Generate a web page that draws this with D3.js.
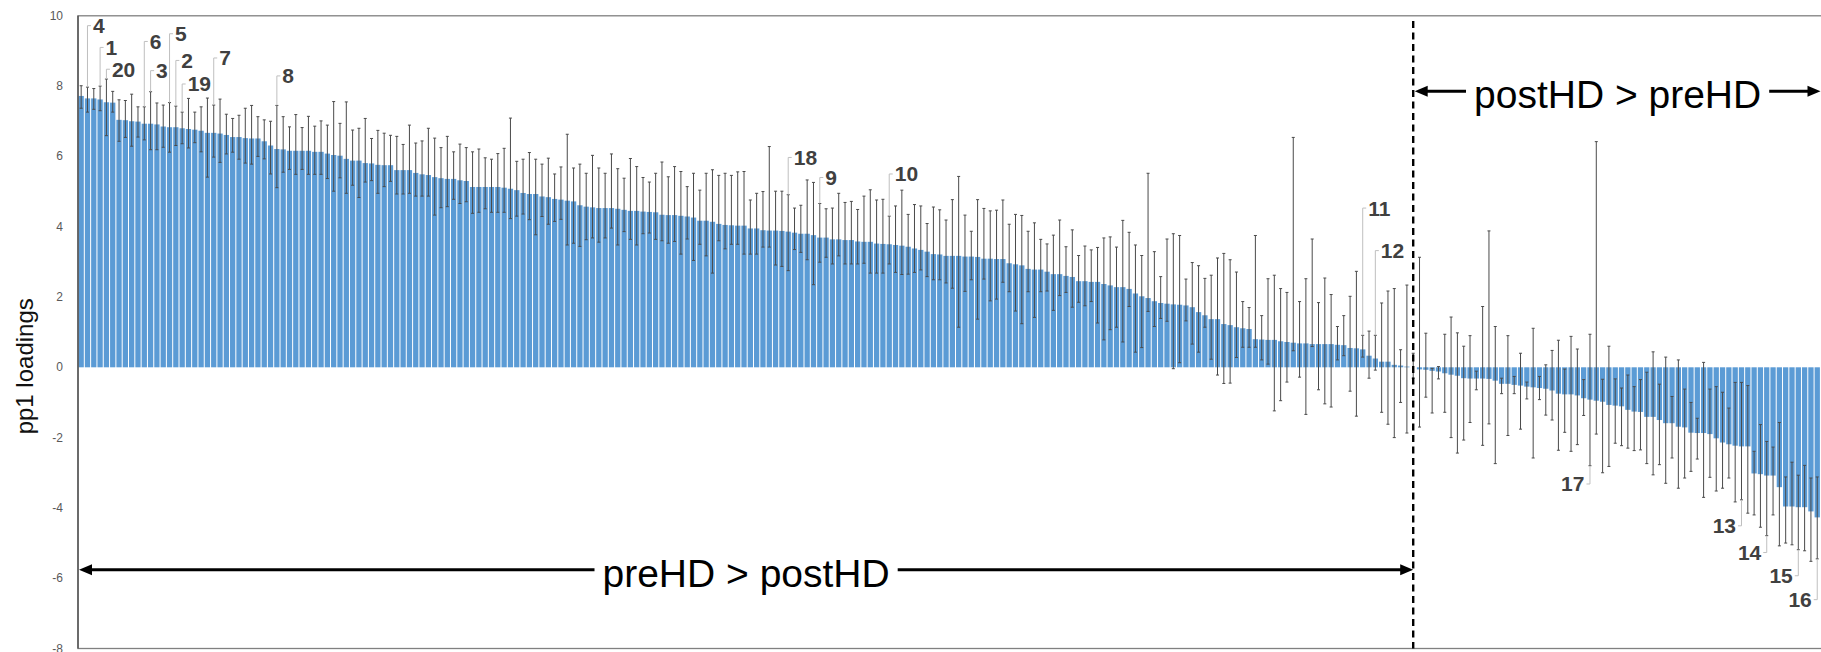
<!doctype html>
<html lang="en">
<head>
<meta charset="UTF-8">
<title>pp1 loadings</title>
<script src="https://d3js.org/d3.v7.min.js"></script>
<style>
  html, body { margin: 0; padding: 0; background: #fff; }
  svg { display: block; font-family: "Liberation Sans", Arial, sans-serif; }
</style>
</head>
<body>
<div id="chart"></div>
<script>
// pp1 loadings, sorted high to low (one bar per feature)
const values = [
  7.72, 7.65, 7.65, 7.62, 7.54, 7.53, 7.04, 7.03, 7.00, 6.99,
  6.93, 6.93, 6.91, 6.85, 6.83, 6.83, 6.80, 6.78, 6.76, 6.73,
  6.67, 6.67, 6.65, 6.61, 6.55, 6.55, 6.52, 6.51, 6.51, 6.43,
  6.31, 6.21, 6.20, 6.16, 6.16, 6.16, 6.16, 6.13, 6.13, 6.08,
  6.04, 6.02, 5.93, 5.88, 5.88, 5.81, 5.80, 5.76, 5.75, 5.75,
  5.61, 5.61, 5.61, 5.53, 5.49, 5.47, 5.41, 5.38, 5.36, 5.36,
  5.32, 5.30, 5.13, 5.13, 5.13, 5.13, 5.13, 5.11, 5.08, 5.04,
  4.96, 4.93, 4.93, 4.86, 4.84, 4.79, 4.77, 4.74, 4.72, 4.61,
  4.57, 4.55, 4.53, 4.53, 4.53, 4.51, 4.48, 4.45, 4.45, 4.43,
  4.42, 4.41, 4.34, 4.33, 4.33, 4.31, 4.29, 4.26, 4.17, 4.17,
  4.14, 4.08, 4.05, 4.04, 4.03, 4.03, 3.95, 3.95, 3.90, 3.89,
  3.89, 3.88, 3.86, 3.83, 3.80, 3.80, 3.76, 3.69, 3.69, 3.64,
  3.64, 3.62, 3.62, 3.58, 3.57, 3.57, 3.52, 3.51, 3.50, 3.48,
  3.46, 3.43, 3.38, 3.34, 3.29, 3.22, 3.21, 3.17, 3.17, 3.17,
  3.15, 3.15, 3.14, 3.09, 3.09, 3.08, 3.08, 2.96, 2.93, 2.90,
  2.80, 2.78, 2.78, 2.72, 2.65, 2.65, 2.60, 2.57, 2.45, 2.45,
  2.43, 2.43, 2.37, 2.33, 2.28, 2.28, 2.23, 2.10, 2.02, 1.97,
  1.88, 1.83, 1.81, 1.79, 1.78, 1.76, 1.71, 1.57, 1.48, 1.37,
  1.37, 1.23, 1.20, 1.14, 1.11, 1.09, 0.80, 0.79, 0.78, 0.78,
  0.74, 0.72, 0.70, 0.68, 0.68, 0.66, 0.66, 0.66, 0.66, 0.64,
  0.63, 0.55, 0.54, 0.51, 0.33, 0.25, 0.16, 0.16, 0.07, 0.05,
  0.02, 0.00, -0.06, -0.07, -0.10, -0.12, -0.17, -0.21, -0.24, -0.31,
  -0.32, -0.32, -0.32, -0.33, -0.38, -0.47, -0.47, -0.50, -0.52, -0.55,
  -0.57, -0.59, -0.61, -0.66, -0.75, -0.77, -0.77, -0.80, -0.88, -0.92,
  -0.95, -0.98, -1.07, -1.09, -1.11, -1.21, -1.26, -1.27, -1.41, -1.41,
  -1.50, -1.59, -1.59, -1.69, -1.71, -1.86, -1.87, -1.87, -1.90, -2.02,
  -2.14, -2.19, -2.23, -2.25, -2.25, -3.02, -3.04, -3.08, -3.08, -3.41,
  -3.96, -3.96, -3.98, -3.98, -4.10, -4.27
];

// upper end of each error bar
const ciHigh = [
  8.01, 7.97, 7.93, 8.00, 8.20, 7.85, 7.61, 7.59, 7.77, 7.41,
  7.41, 7.84, 7.52, 7.46, 7.53, 7.43, 7.26, 7.65, 7.26, 7.41,
  7.66, 7.46, 7.63, 7.20, 7.08, 7.17, 7.37, 7.45, 7.13, 7.04,
  7.00, 7.45, 7.13, 6.84, 7.19, 6.82, 7.14, 6.86, 7.01, 6.89,
  7.56, 6.94, 7.55, 6.75, 6.80, 7.08, 6.51, 6.74, 6.66, 6.60,
  6.57, 6.34, 6.89, 6.38, 6.44, 6.80, 6.52, 6.25, 6.57, 6.13,
  6.35, 6.25, 6.13, 6.21, 5.96, 5.92, 6.08, 6.23, 7.09, 5.86,
  5.92, 6.11, 5.92, 5.78, 5.95, 5.50, 5.70, 6.63, 5.67, 5.78,
  5.52, 6.03, 5.67, 5.52, 6.07, 5.65, 5.38, 5.94, 5.71, 5.40,
  5.27, 5.52, 5.84, 5.42, 5.71, 5.57, 5.14, 5.52, 5.04, 5.52,
  5.62, 5.46, 5.52, 5.46, 5.56, 5.57, 4.76, 4.95, 5.00, 6.28,
  5.01, 5.01, 4.91, 4.53, 4.61, 5.33, 5.26, 4.66, 4.51, 4.53,
  4.95, 4.69, 4.72, 4.49, 4.87, 5.05, 4.76, 4.78, 4.30, 4.59,
  5.04, 4.35, 4.63, 4.59, 4.09, 4.56, 4.48, 4.19, 4.77, 5.43,
  4.33, 3.87, 4.77, 4.52, 4.45, 4.47, 4.76, 4.07, 4.35, 4.32,
  3.87, 4.11, 3.64, 3.51, 3.76, 4.19, 3.43, 3.91, 3.18, 3.45,
  3.34, 3.41, 3.68, 3.71, 3.42, 4.18, 3.84, 3.48, 3.18, 5.52,
  3.29, 2.58, 3.65, 3.80, 3.75, 2.51, 2.98, 2.89, 2.53, 2.62,
  3.11, 3.24, 3.06, 2.71, 1.87, 1.70, 3.75, 1.47, 2.52, 2.62,
  2.24, 2.13, 6.54, 1.87, 2.52, 3.65, 1.84, 2.54, 2.07, 1.16,
  1.47, 2.02, 2.73, 0.91, 1.03, 0.91, 1.83, 2.17, 2.24, 0.50,
  2.34, 0.40, 3.13, 0.97, -0.03, 0.02, 0.94, 1.43, 0.98, 0.60,
  0.90, -0.11, 1.73, 3.88, 1.16, -0.31, 0.90, -0.26, 0.40, -0.42,
  1.11, -0.26, 0.07, 0.48, 0.77, -0.05, 0.88, 0.52, -0.35, 0.94,
  6.42, -0.34, 0.60, -0.33, -0.59, -0.22, -0.55, -0.35, -0.14, 0.44,
  -0.48, 0.29, -0.83, 0.21, -0.62, -1.00, -1.45, 0.14, -0.62, -0.55,
  -0.71, -1.16, -0.43, -0.43, -0.52, -2.39, -1.63, -2.11, -2.27, -1.57,
  -3.12, -2.70, -3.07, -2.79, -3.15, -3.12
];

// lower end of each error bar
const ciLow = [
  7.37, 7.26, 7.34, 7.30, 6.59, 7.26, 6.43, 6.54, 6.29, 6.55,
  6.47, 6.19, 6.19, 6.26, 6.12, 6.31, 6.36, 6.24, 6.39, 6.13,
  5.41, 5.98, 5.83, 6.07, 6.12, 5.92, 5.81, 5.78, 6.00, 5.93,
  5.50, 5.11, 5.55, 5.63, 5.49, 5.63, 5.49, 5.49, 5.49, 5.37,
  5.01, 5.39, 4.95, 5.18, 4.83, 5.27, 5.31, 4.95, 5.14, 5.29,
  4.93, 4.93, 4.95, 4.87, 4.87, 4.87, 4.33, 4.54, 4.57, 4.78,
  4.66, 4.71, 4.38, 4.41, 4.51, 4.41, 4.41, 4.41, 4.23, 4.30,
  4.36, 4.20, 3.77, 4.29, 4.07, 4.15, 4.21, 3.48, 3.53, 3.44,
  3.63, 3.68, 3.56, 3.68, 3.96, 3.48, 3.86, 3.64, 3.48, 3.80,
  3.82, 3.64, 3.60, 3.53, 3.58, 3.22, 3.65, 3.04, 3.50, 3.17,
  2.68, 3.60, 3.37, 3.50, 3.50, 3.22, 3.22, 3.22, 3.42, 3.42,
  2.91, 2.87, 2.75, 3.35, 3.27, 3.06, 2.35, 2.99, 3.13, 2.94,
  3.17, 2.94, 2.94, 2.94, 2.96, 2.68, 2.68, 2.68, 2.94, 2.70,
  2.64, 2.65, 2.70, 2.77, 2.58, 2.49, 2.49, 2.40, 2.25, 1.14,
  2.16, 2.49, 1.37, 2.51, 1.89, 1.94, 2.42, 2.15, 1.60, 1.24,
  2.15, 1.42, 2.15, 2.17, 1.62, 2.04, 2.13, 1.71, 1.85, 1.75,
  1.87, 1.26, 0.78, 1.07, 1.14, 0.72, 1.73, 0.43, 0.56, 1.59,
  1.16, 1.39, 1.31, -0.04, 0.13, 1.32, 0.66, 0.43, 1.14, 0.23,
  -0.22, -0.46, -0.45, 0.28, 0.57, 0.57, 0.57, 0.21, 0.09, -1.24,
  -0.95, -0.42, 0.47, -0.28, -1.34, 0.59, -0.64, -1.04, -1.13, 0.21,
  0.33, -0.68, -1.39, 0.29, -0.31, -0.08, -1.28, -1.62, -2.00, -1.00,
  -1.87, -0.31, -1.70, -0.85, -1.30, -0.33, -1.28, -2.00, -2.44, -2.07,
  -1.57, -0.64, -2.22, -1.61, -2.74, -0.75, -1.94, -0.75, -1.76, -0.90,
  -2.58, -0.92, -1.36, -1.50, -2.36, -1.85, -2.39, -2.20, -1.37, -2.80,
  -1.90, -3.00, -2.82, -2.16, -2.23, -2.30, -2.37, -2.35, -2.74, -3.06,
  -2.77, -3.30, -2.58, -3.44, -3.15, -2.96, -2.61, -3.70, -3.13, -3.52,
  -3.44, -3.15, -3.83, -3.77, -4.15, -4.20, -4.55, -4.79, -4.20, -5.08,
  -5.00, -5.05, -5.19, -5.22, -5.52, -5.45
];

// numbered callouts: bar they point at, and where the callout sits (loading units)
const calloutText = ["4", "1", "20", "6", "3", "5", "2", "19", "7", "8", "18", "9", "10", "11", "12", "17", "13", "14", "15", "16"];
const calloutBar  = [1, 3, 4, 10, 11, 14, 15, 16, 21, 31, 112, 117, 128, 203, 205, 239, 263, 267, 272, 275];
const calloutAt   = [9.72, 9.10, 8.48, 9.27, 8.44, 9.49, 8.73, 8.06, 8.80, 8.29, 5.97, 5.40, 5.50, 4.53, 3.32, -3.32, -4.51, -5.27, -5.93, -6.61];

const yTicks = [10, 8, 6, 4, 2, 0, -2, -4, -6, -8];
const splitBar = 211;          // where preHD > postHD turns into postHD > preHD
const arrowLevels = {top: 7.85, bottom: -5.76};

const W = 1821, H = 652;
const margin = {top: 15.8, right: 0.6, bottom: 3.5, left: 78};

const svg = d3.select("#chart").append("svg")
    .attr("width", W)
    .attr("height", H);

const x = d3.scaleBand()
    .domain(d3.range(values.length))
    .range([margin.left, W - margin.right])
    .paddingInner(0.16)
    .paddingOuter(0.08);

const y = d3.scaleLinear()
    .domain([-8, 10])
    .range([H - margin.bottom, margin.top]);

const bw = x.bandwidth();
const cx = i => x(i) + bw / 2;

// bars
svg.append("g")
  .selectAll("rect")
  .data(values)
  .join("rect")
    .attr("x", (d, i) => x(i))
    .attr("width", bw)
    .attr("y", d => y(Math.max(0, d)))
    .attr("height", d => Math.abs(y(d) - y(0)))
    .attr("fill", "#5b9bd5");

// error bars
const eb = svg.append("g")
    .attr("stroke", "#4a4a4a")
    .attr("stroke-width", 1);

eb.selectAll("line.stem")
  .data(values)
  .join("line")
    .attr("class", "stem")
    .attr("x1", (d, i) => cx(i)).attr("x2", (d, i) => cx(i))
    .attr("y1", (d, i) => y(ciHigh[i]))
    .attr("y2", (d, i) => y(ciLow[i]));

eb.selectAll("line.hicap")
  .data(values)
  .join("line")
    .attr("class", "hicap")
    .attr("x1", (d, i) => cx(i) - 1.5).attr("x2", (d, i) => cx(i) + 1.5)
    .attr("y1", (d, i) => y(ciHigh[i])).attr("y2", (d, i) => y(ciHigh[i]));

eb.selectAll("line.locap")
  .data(values)
  .join("line")
    .attr("class", "locap")
    .attr("x1", (d, i) => cx(i) - 1.5).attr("x2", (d, i) => cx(i) + 1.5)
    .attr("y1", (d, i) => y(ciLow[i])).attr("y2", (d, i) => y(ciLow[i]));

// plot frame
svg.append("rect")
    .attr("x", margin.left)
    .attr("y", margin.top)
    .attr("width", W - margin.left + 2)
    .attr("height", y(-8) - margin.top)
    .attr("fill", "none")
    .attr("stroke", "#808080")
    .attr("stroke-width", 1.3);
svg.append("line")
    .attr("x1", margin.left).attr("x2", margin.left)
    .attr("y1", margin.top).attr("y2", y(-8))
    .attr("stroke", "#404040")
    .attr("stroke-width", 1.2);

// y tick labels
svg.append("g")
  .selectAll("text")
  .data(yTicks)
  .join("text")
    .attr("x", 63)
    .attr("y", d => y(d) + 4)
    .attr("text-anchor", "end")
    .attr("font-size", 12)
    .attr("fill", "#595959")
    .text(d => d);

svg.append("text")
    .attr("transform", `translate(33,${y(0) - 1}) rotate(-90)`)
    .attr("text-anchor", "middle")
    .attr("font-size", 24)
    .attr("fill", "#111")
    .text("pp1 loadings");

// callouts
const co = svg.append("g");
calloutText.forEach((t, k) => {
  const i = calloutBar[k];
  const up = calloutAt[k] > values[i];
  const bx = cx(i);
  const from = up ? y(ciHigh[i]) : y(ciLow[i]);
  const to = y(calloutAt[k]);
  const dir = up ? 1 : -1;
  co.append("path")
      .attr("d", `M${bx},${from}V${to}h${dir * 3.5}`)
      .attr("fill", "none")
      .attr("stroke", "#bfbfbf")
      .attr("stroke-width", 1);
  co.append("text")
      .attr("x", bx + dir * 5.5)
      .attr("y", to + 7.5)
      .attr("text-anchor", up ? "start" : "end")
      .attr("font-size", 21)
      .attr("font-weight", "bold")
      .attr("fill", "#404040")
      .text(t);
});

// dashed divider
const splitX = cx(splitBar);
svg.append("line")
    .attr("x1", splitX).attr("x2", splitX)
    .attr("y1", 21).attr("y2", y(-8))
    .attr("stroke", "#000")
    .attr("stroke-width", 2.4)
    .attr("stroke-dasharray", "7,4.5");

// double arrows with labels
function doubleArrow(x0, x1, level, label) {
  const g = svg.append("g");
  const ay = y(level);
  const txt = g.append("text")
      .attr("x", (x0 + x1) / 2)
      .attr("y", ay + 17)
      .attr("text-anchor", "middle")
      .attr("font-size", 39)
      .attr("fill", "#000")
      .text(label);
  const bb = txt.node().getBBox();
  const gap = 8, head = 13, half = 5.5;
  g.append("line")
      .attr("x1", x0 + head - 1).attr("x2", bb.x - gap)
      .attr("y1", ay).attr("y2", ay)
      .attr("stroke", "#000").attr("stroke-width", 3);
  g.append("line")
      .attr("x1", bb.x + bb.width + gap).attr("x2", x1 - head + 1)
      .attr("y1", ay).attr("y2", ay)
      .attr("stroke", "#000").attr("stroke-width", 3);
  g.append("path")
      .attr("d", `M${x0},${ay}L${x0 + head},${ay - half}L${x0 + head},${ay + half}Z`)
      .attr("fill", "#000");
  g.append("path")
      .attr("d", `M${x1},${ay}L${x1 - head},${ay - half}L${x1 - head},${ay + half}Z`)
      .attr("fill", "#000");
}

doubleArrow(margin.left + 1, splitX, arrowLevels.bottom, "preHD > postHD");
doubleArrow(splitX + 1.5, W - 0.5, arrowLevels.top, "postHD > preHD");
</script>
</body>
</html>
